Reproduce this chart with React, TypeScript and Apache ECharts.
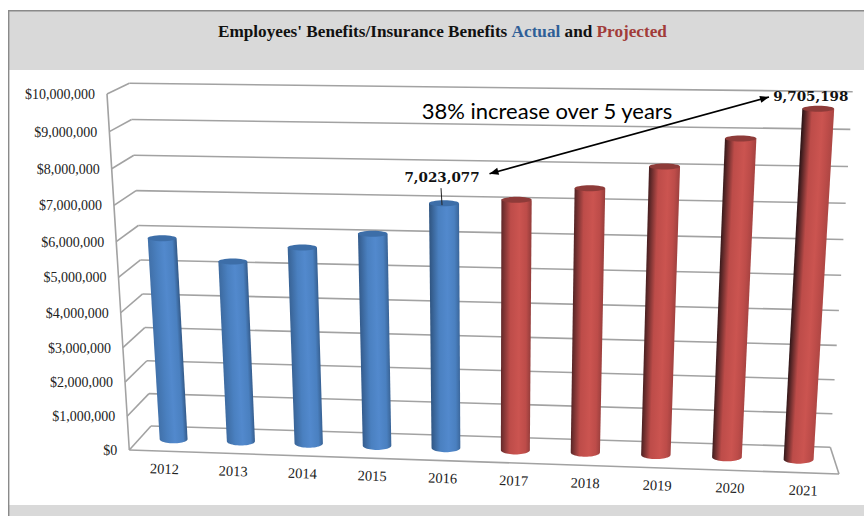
import React, { useEffect, useRef } from "react";
import * as echarts from "echarts";

const years = ["2012", "2013", "2014", "2015", "2016", "2017", "2018", "2019", "2020", "2021"];
const actualValues = [5890000, 5270000, 5710000, 6140000, 7023077];
const projectedValues = [7150000, 7500000, 8120000, 8900000, 9705198];
const tickValues = [0, 1000000, 2000000, 3000000, 4000000, 5000000, 6000000, 7000000, 8000000, 9000000, 10000000];
const tickLabels = ["$0", "$1,000,000", "$2,000,000", "$3,000,000", "$4,000,000", "$5,000,000", "$6,000,000", "$7,000,000", "$8,000,000", "$9,000,000", "$10,000,000"];
const labelledYears = ["2016", "2021"];

const WIDTH = 864;
const HEIGHT = 516;
const SERIF = "'Liberation Serif', serif";
const LABEL_SERIF = "'DejaVu Serif', serif";
const WALL = "#a2a2a2";

type Pt = [number, number];
type Quad = { bl: Pt; br: Pt; tr: Pt; tl: Pt };

// Box corners of the 3D plot, as seen by the camera.
const backWall: Quad = { bl: [151, 426], br: [830.3, 447.3], tr: [852.7, 91.7], tl: [129.3, 83.3] };
const frontWall: Quad = { bl: [129.3, 450], br: [839, 474], tr: [862, 104], tl: [107, 94] };

const lerpPt = (a: Pt, b: Pt, t: number): Pt => [a[0] + (b[0] - a[0]) * t, a[1] + (b[1] - a[1]) * t];

// Perspective map from the unit square (u right, v up) to a quadrilateral.
function homography(q: Quad) {
  const [x0, y0] = q.bl;
  const [x1, y1] = q.br;
  const [x2, y2] = q.tr;
  const [x3, y3] = q.tl;
  const dx1 = x1 - x2;
  const dx2 = x3 - x2;
  const sx = x0 - x1 + x2 - x3;
  const dy1 = y1 - y2;
  const dy2 = y3 - y2;
  const sy = y0 - y1 + y2 - y3;
  const den = dx1 * dy2 - dx2 * dy1;
  const g = (sx * dy2 - dx2 * sy) / den;
  const h = (dx1 * sy - sx * dy1) / den;
  const a = x1 - x0 + g * x1;
  const b = x3 - x0 + h * x3;
  const d = y1 - y0 + g * y1;
  const e = y3 - y0 + h * y3;
  return (u: number, v: number): Pt => {
    const w = g * u + h * v + 1;
    return [(a * u + b * v + x0) / w, (d * u + e * v + y0) / w];
  };
}

function planeAt(depth: number) {
  return homography({
    bl: lerpPt(backWall.bl, frontWall.bl, depth),
    br: lerpPt(backWall.br, frontWall.br, depth),
    tr: lerpPt(backWall.tr, frontWall.tr, depth),
    tl: lerpPt(backWall.tl, frontWall.tl, depth),
  });
}

const backPlane = planeAt(0);
const barPlane = planeAt(0.5);
const frontPlane = planeAt(1);

// Converts a pixel of the hidden cartesian grid to unit-square coordinates.
function toUnit(params: any, p: number[]): Pt {
  const c = params.coordSys;
  return [(p[0] - c.x) / c.width, (c.y + c.height - p[1]) / c.height];
}

function hex(c: string): number[] {
  return [1, 3, 5].map((i) => parseInt(c.slice(i, i + 2), 16));
}
function mix(a: string, b: string, t: number): string {
  const [p, q] = [hex(a), hex(b)];
  return "rgb(" + p.map((v, i) => Math.round(v + (q[i] - v) * t)).join(",") + ")";
}

const blueShade = { mid: "#4a80c0", bright: "#5289cd", shadow: "#1d3654", cap: "#3d6ea8" };
const redShade = { mid: "#bd4c49", bright: "#cb5450", shadow: "#33181a", cap: "#8e3b39" };

function cylinderItem(shade: typeof blueShade) {
  return (params: any, api: any) => {
    const index = api.value(0);
    const value = api.value(1);
    const [u, v] = toUnit(params, api.coord([index, value]));
    const half = (api.size([1, 0])[0] / params.coordSys.width) * 0.208;
    const lean = index / (years.length - 1);

    const baseL = barPlane(u - half, 0);
    const baseR = barPlane(u + half, 0);
    const topL = barPlane(u - half, v);
    const topR = barPlane(u + half, v);
    const baseC = lerpPt(baseL, baseR, 0.5);
    const topC = lerpPt(topL, topR, 0.5);
    const rx = (baseR[0] - baseL[0]) / 2;
    const topRx = (topR[0] - topL[0]) / 2;

    const arc: Pt[] = [];
    for (let k = 0; k <= 24; k++) {
      const t = (k / 24) * Math.PI;
      arc.push([baseC[0] + rx * Math.cos(t), baseC[1] + 4.2 * Math.sin(t)]);
    }

    const axisX = topC[0] - baseC[0];
    const axisY = topC[1] - baseC[1];
    const len = Math.hypot(axisX, axisY);
    const midX = (topC[0] + baseC[0]) / 2;
    const midY = (topC[1] + baseC[1]) / 2;
    const nx = -axisY / len;
    const ny = axisX / len;
    const sideSign = nx > 0 ? 1 : -1;
    const leftDark = 0.2 + 0.8 * lean;
    const rightDark = 0.5 - 0.4 * lean;
    const fill = new echarts.graphic.LinearGradient(
      midX - sideSign * nx * rx,
      midY - sideSign * ny * rx,
      midX + sideSign * nx * rx,
      midY + sideSign * ny * rx,
      [
        { offset: 0, color: mix(shade.mid, shade.shadow, leftDark) },
        { offset: 0.3, color: shade.mid },
        { offset: 0.55 + 0.1 * lean, color: shade.bright },
        { offset: 0.85, color: shade.mid },
        { offset: 1, color: mix(shade.mid, shade.shadow, rightDark) },
      ],
      true
    );

    const children: any[] = [
      { type: "polygon", shape: { points: [topL, topR, ...arc] }, style: { fill } },
      {
        type: "ellipse",
        shape: { cx: topC[0], cy: topC[1], rx: topRx, ry: 3 },
        style: { fill: shade.cap },
      },
    ];

    const year = years[index];
    if (labelledYears.includes(year)) {
      const text = Math.round(value).toLocaleString("en-US");
      const leader = year === "2016";
      children.push({
        type: "text",
        x: topC[0] + (leader ? -2 : -7.5),
        y: topC[1] + (leader ? -26 : -13),
        style: {
          text,
          fontFamily: LABEL_SERIF,
          fontWeight: "bold",
          fontSize: 13.5,
          fill: "#111111",
          align: "center",
          verticalAlign: "middle",
        },
      });
      if (leader) {
        children.push({
          type: "line",
          shape: { x1: topC[0] - 3, y1: topC[1] - 15, x2: topC[0] - 2, y2: topC[1] + 2 },
          style: { stroke: "#222222", lineWidth: 1 },
        });
      }
    }
    return { type: "group", children };
  };
}

// One gridline per tick on the back wall and side wall, plus the tick's label.
function wallItem(params: any, api: any) {
  const idx = api.value(0);
  const [, v] = toUnit(params, api.coord([0, tickValues[idx]]));
  const back0 = backPlane(0, v);
  const back1 = backPlane(1, v);
  const front0 = frontPlane(0, v);
  const line = (a: Pt, b: Pt) => ({
    type: "line",
    shape: { x1: a[0], y1: a[1], x2: b[0], y2: b[1] },
    style: { stroke: WALL, lineWidth: 1.6 },
  });
  return {
    type: "group",
    children: [
      line(back0, back1),
      line(back0, front0),
      {
        type: "text",
        x: front0[0] - 12,
        y: front0[1] + 0.5,
        style: {
          text: tickLabels[idx],
          fontFamily: SERIF,
          fontSize: 14,
          fill: "#222222",
          align: "right",
          verticalAlign: "middle",
        },
      },
    ],
  };
}

// Left upright, front floor edge and right floor edge of the box.
function frameItem() {
  const pts: [Pt, Pt][] = [
    [frontPlane(0, 0), frontPlane(0, 1)],
    [frontPlane(0, 0), frontPlane(1, 0)],
    [backPlane(1, 0), frontPlane(1, 0)],
  ];
  return {
    type: "group",
    children: pts.map(([a, b]) => ({
      type: "line",
      shape: { x1: a[0], y1: a[1], x2: b[0], y2: b[1] },
      style: { stroke: WALL, lineWidth: 1.6 },
    })),
  };
}

function yearLabelItem(params: any, api: any) {
  const index = api.value(0);
  const [u] = toUnit(params, api.coord([index, 0]));
  const p = frontPlane(u, 0);
  return {
    type: "text",
    x: p[0] + 1,
    y: p[1] + 17.5,
    rotation: -0.033,
    style: {
      text: years[index],
      fontFamily: SERIF,
      fontSize: 14.5,
      fill: "#222222",
      align: "center",
      verticalAlign: "middle",
    },
  };
}

function arrowHead(tip: Pt, from: Pt) {
  const d = Math.hypot(tip[0] - from[0], tip[1] - from[1]);
  const ux = (tip[0] - from[0]) / d;
  const uy = (tip[1] - from[1]) / d;
  const back: Pt = [tip[0] - ux * 9, tip[1] - uy * 9];
  return {
    type: "polygon",
    z: 20,
    shape: {
      points: [tip, [back[0] - uy * 3.6, back[1] + ux * 3.6], [back[0] + uy * 3.6, back[1] - ux * 3.6]],
    },
    style: { fill: "#000000" },
  };
}

const arrowStart: Pt = [489.5, 173.7];
const arrowEnd: Pt = [769, 97];

export default function App() {
  const ref = useRef<HTMLDivElement>(null);

  useEffect(() => {
    const chart = echarts.init(ref.current!, undefined, { renderer: "svg" });
    const yearIndex = years.map((_, i) => [i, 0]);
    chart.setOption({
      animation: false,
      backgroundColor: "#ffffff",
      title: {
        left: 213,
        top: 18,
        text: "{a|Employees' Benefits/Insurance Benefits }{b|Actual}{a| and }{c|Projected}",
        textStyle: {
          rich: {
            a: { fontFamily: SERIF, fontWeight: "bold", fontSize: 17.2, color: "#111111" },
            b: { fontFamily: SERIF, fontWeight: "bold", fontSize: 17.2, color: "#2f5f97" },
            c: { fontFamily: SERIF, fontWeight: "bold", fontSize: 17.2, color: "#a13c39" },
          },
        },
      },
      grid: { left: 100, top: 60, width: 700, height: 400, containLabel: false },
      xAxis: { type: "category", data: years, show: false },
      yAxis: { type: "value", min: 0, max: 10000000, interval: 1000000, show: false },
      graphic: {
        elements: [
          { type: "rect", z: -1, shape: { x: 9, y: 11, width: 855, height: 59 }, style: { fill: "#d9d9d9" } },
          { type: "rect", z: -1, shape: { x: 9, y: 505, width: 855, height: 11 }, style: { fill: "#d9d9d9" } },
          { type: "polyline", z: 0, shape: { points: [[8.7, 516], [8.7, 10.7], [864, 10.7]] }, style: { fill: "none", stroke: "#8a8a8a", lineWidth: 1.4 } },
          {
            type: "text",
            z: 20,
            x: 547,
            y: 110,
            style: {
              text: "38% increase over 5 years",
              fontFamily: "Lato, sans-serif",
              fontSize: 22,
              fill: "#000000",
              align: "center",
              verticalAlign: "middle",
            },
          },
          {
            type: "line",
            z: 20,
            shape: { x1: arrowStart[0], y1: arrowStart[1], x2: arrowEnd[0], y2: arrowEnd[1] },
            style: { stroke: "#000000", lineWidth: 1.6 },
          },
          arrowHead(arrowStart, arrowEnd),
          arrowHead(arrowEnd, arrowStart),
        ],
      },
      series: [
        { type: "custom", name: "Walls", z: 1, silent: true, data: tickValues.map((_, i) => [i]), encode: { y: -1, x: -1 }, renderItem: wallItem },
        { type: "custom", name: "Frame", z: 1, silent: true, data: [[0, 0]], renderItem: frameItem },
        { type: "custom", name: "Years", z: 1, silent: true, data: yearIndex, renderItem: yearLabelItem },
        {
          type: "custom",
          name: "Actual",
          z: 3,
          silent: true,
          data: actualValues.map((v, i) => [i, v]),
          renderItem: cylinderItem(blueShade),
        },
        {
          type: "custom",
          name: "Projected",
          z: 3,
          silent: true,
          data: projectedValues.map((v, i) => [i + actualValues.length, v]),
          renderItem: cylinderItem(redShade),
        },
      ],
    });
    return () => chart.dispose();
  }, []);

  return <div ref={ref} style={{ position: "fixed", left: 0, top: 0, width: WIDTH, height: HEIGHT }} />;
}
